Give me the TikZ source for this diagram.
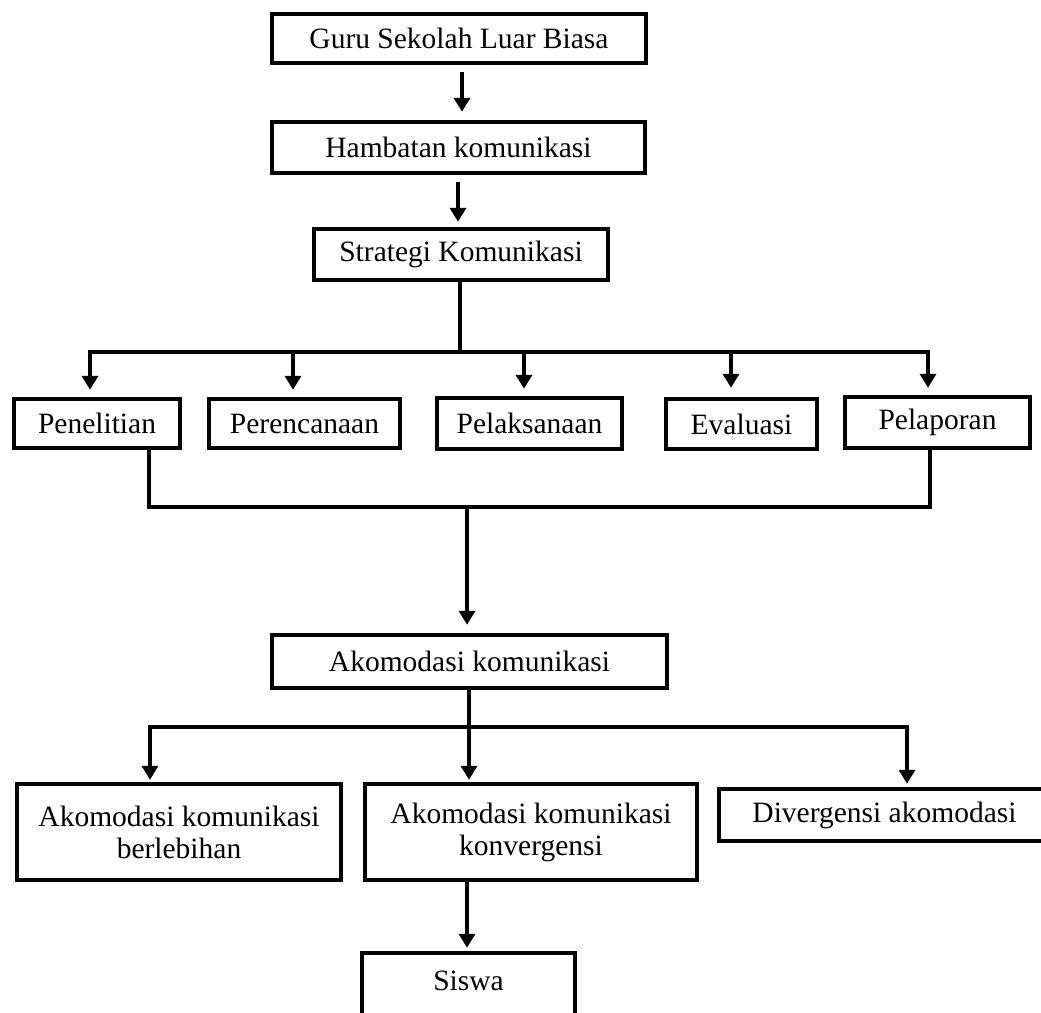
\documentclass[tikz,border=0pt]{standalone}
\usepackage{fontspec}
\setmainfont{Liberation Serif}
\usetikzlibrary{arrows.meta}
\begin{document}
\begin{tikzpicture}[x=1pt,y=-1pt,
  box/.style={draw, line width=4.5pt, inner sep=0pt, align=center, font=\fontsize{29.5}{32}\selectfont},
  conn/.style={line width=4.5pt},
  arr/.style={conn, -{Triangle[length=14pt,width=16pt]}},
  arrtwo/.style={conn, {Triangle[length=14pt,width=16pt]}-{Triangle[length=14pt,width=16pt]}}]
\clip (0,0) rectangle (1041,1012);
\fill[white] (0,0) rectangle (1041,1012);
% boxes
\node[box, minimum width=374pt, minimum height=49pt] (guru) at (459,38.5) {Guru Sekolah Luar Biasa};
\node[box, minimum width=373pt, minimum height=51pt] (hamb) at (458.5,147.5) {Hambatan komunikasi};
\node[box, minimum width=294pt, minimum height=51pt] (strat) at (461,254.5) {Strategi Komunikasi};
\node[box, minimum width=166pt, minimum height=49pt] (pen) at (97,423.5) {Penelitian};
\node[box, minimum width=191pt, minimum height=49pt] (per) at (304.5,423.5) {Perencanaan};
\node[box, minimum width=185pt, minimum height=51pt] (pel) at (529.5,423.5) {Pelaksanaan};
\node[box, minimum width=151pt, minimum height=50pt] (eva) at (741.5,424) {Evaluasi};
\node[box, minimum width=185pt, minimum height=51pt] (lap) at (937.5,422.5) {Pelaporan};
\node[box, minimum width=395pt, minimum height=53pt] (ako) at (469.5,661.5) {Akomodasi komunikasi};
\node[box, minimum width=324pt, minimum height=96pt] (ber) at (179,832) {Akomodasi komunikasi\\berlebihan};
\node[box, minimum width=332pt, minimum height=96pt] (kon) at (531,832) {Akomodasi komunikasi\\konvergensi};
\node[box, minimum width=331pt, minimum height=52pt] (div) at (884.5,815) {Divergensi akomodasi};
\node[box, minimum width=213pt, minimum height=87pt, text depth=32pt] (sis) at (468.5,996.5) {Siswa};
% coordinates
\coordinate (g1) at (462,90);
\coordinate (h1) at (458,200);
\coordinate (s1) at (460,352);
\coordinate (b1) at (90,352);
\coordinate (b2) at (293,352);
\coordinate (b3) at (524,352);
\coordinate (b4) at (731,352);
\coordinate (b5) at (928,352);
\coordinate (m1) at (149,507);
\coordinate (m2) at (930,507);
\coordinate (m3) at (467,507);
\coordinate (a1) at (150,727);
\coordinate (a2) at (469,727);
\coordinate (a3) at (907,727);
\coordinate (k1) at (467,884);
% connectors
\draw[arr, shorten <=7pt, shorten >=8pt] (g1 |- guru.south) -- (g1 |- hamb.north);
\draw[arr, shorten <=7pt, shorten >=5pt] (h1 |- hamb.south) -- (h1 |- strat.north);
\draw[conn] (s1 |- strat.south) -- (s1);
\draw[arrtwo, shorten <=7pt, shorten >=7pt] (b1 |- pen.north) -- (b1) -- (b5) -- (b5 |- lap.north);
\draw[arr, shorten >=7pt] (b2) -- (b2 |- per.north);
\draw[arr, shorten >=7pt] (b3) -- (b3 |- pel.north);
\draw[arr, shorten >=9pt] (b4) -- (b4 |- eva.north);
\draw[conn] (m1 |- pen.south) -- (m1) -- (m2) -- (m2 |- lap.south);
\draw[arr, shorten >=8pt] (m3) -- (m3 |- ako.north);
\draw[arr, shorten >=2pt] (a2 |- ako.south) -- (a2 |- kon.north);
\draw[arrtwo, shorten <=2pt, shorten >=3pt] (a1 |- ber.north) -- (a1) -- (a3) -- (a3 |- div.north);
\draw[arr, shorten >=3pt] (k1 |- kon.south) -- (k1 |- sis.north);
\end{tikzpicture}
\end{document}
